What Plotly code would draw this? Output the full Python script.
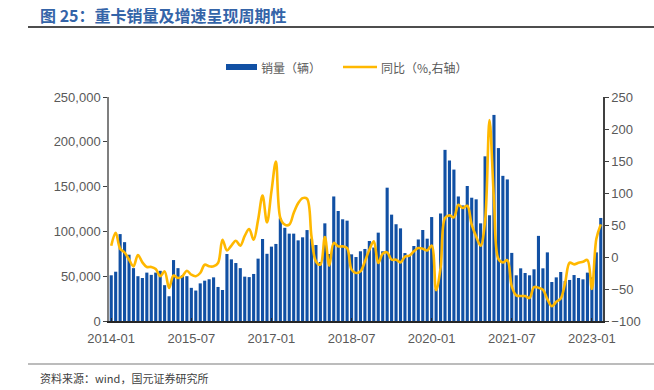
import plotly.graph_objects as go

# ---- data ----
start_year, start_month, n_months = 2014, 1, 111
months = []
y, m = start_year, start_month
for _ in range(n_months):
    months.append(f"{y}-{m:02d}")
    m += 1
    if m > 12:
        m = 1
        y += 1

sales = [51000, 55000, 97000, 88000, 74000, 59000, 50000, 48000, 54000, 51500, 54000, 56000,
         40000, 27600, 68000, 59000, 51000, 50000, 37000, 34000, 42000, 45000, 46600, 48700,
         38000, 34600, 74800, 68800, 64700, 59000, 49500, 49000, 52500, 69600, 91500, 75000,
         83000, 86000, 114600, 104000, 97500, 97500, 90000, 93400, 101500, 92000, 84800, 65800,
         109000, 74800, 139000, 122800, 113500, 112000, 74400, 71400, 77800, 80400, 89300, 82000,
         98600, 77800, 148800, 118700, 108000, 103400, 75800, 72800, 83700, 91000, 101600, 91900,
         116000, 36000, 120000, 191000, 179000, 169000, 139000, 129000, 150700, 137600, 135800, 109000,
         183800, 118000, 230000, 193000, 162000, 158000, 76000, 51000, 58800, 53600, 51000, 57700,
         95000, 58800, 76600, 43500, 48700, 54700, 44600, 45800, 51300, 48000, 46500, 54000,
         48700, 76600, 115000]

yoy = [17.7, 38, 13, 7, -4, -14.6, 3, -8.4, -15.6, -15.6, -18.8, -30,
       -22.5, -48.5, -29, -32.8, -30, -21.4, -27.7, -30, -25, -12, -14.6, -14.6,
       -9.4, 27, 10.3, 17.7, 25.5, 17.7, 33, 43.7, 27, 58, 96, 54,
       102.5, 149, 61, 50.5, 50.5, 68.7, 84, 92, 91, 32, -7, -12,
       31, -13.6, 22, 16.6, 16.6, 14, -19.8, -25, -22.5, -7, 11.4, 24.4,
       -9.4, 5.2, 7.2, -4.2, -4.2, -8.4, 0.5, 2.3, 8.8, 14, 13, 10.3,
       18, -52, -17, 61, 65, 62, 81.7, 76.5, 80, 50.5, 32, 17.7,
       55.7, 214, 90, -3, -8.5, -5, -46, -60, -61, -61, -64, -47,
       -48, -51, -66, -77, -70, -65, -40, -9, -11.5, -9, -7.3, -4.7,
       -50, 28, 51]

tick_labels = ["2014-01", "2015-07", "2017-01", "2018-07", "2020-01", "2021-07", "2023-01"]

title_text = "图 25：重卡销量及增速呈现周期性"
bar_name = "销量（辆）"
line_name = "同比（%,右轴）"
source_text = "资料来源：wind，国元证券研究所"

BAR_COLOR = "#1150A4"
LINE_COLOR = "#FFB800"
GRAY = "#595959"
CJK = "Noto Sans CJK SC"
LAT = "Liberation Sans"

W, H = 654, 390
L, R, T, B = 109, 603, 97, 321


def px(x):
    return (x - L) / (R - L)


def py(y):
    return (B - y) / (B - T)


fig = go.Figure()
fig.add_trace(go.Bar(x=months, y=sales, name=bar_name, marker=dict(color=BAR_COLOR, line=dict(width=0)),
                     yaxis="y", showlegend=False))
fig.add_trace(go.Scatter(x=months, y=yoy, name=line_name, mode="lines",
                         line=dict(color=LINE_COLOR, width=2.6, shape="spline", smoothing=1),
                         yaxis="y2", showlegend=False))

fig.update_layout(
    width=W, height=H,
    margin=dict(l=L, r=W - R, t=T, b=H - B),
    paper_bgcolor="white", plot_bgcolor="white",
    bargap=0.3,
    font=dict(family=LAT, size=13, color=GRAY),
    xaxis=dict(type="category", categoryorder="array", categoryarray=months,
               tickmode="array", tickvals=tick_labels, ticktext=tick_labels,
               showgrid=False, showline=True, linecolor="#262626", linewidth=2,
               ticks="inside", ticklen=3, tickcolor="#262626", ticklabelstandoff=4,
               tickfont=dict(family=LAT, size=13, color=GRAY), range=[-0.5, len(months) - 0.5]),
    yaxis=dict(range=[0, 250000], dtick=50000, tickformat=",", showgrid=False,
               showline=True, linecolor="#7f7f7f", linewidth=1.5,
               ticks="outside", ticklen=4, tickcolor="#404040", zeroline=False,
               tickfont=dict(family=LAT, size=13, color=GRAY)),
    yaxis2=dict(range=[-100, 250], dtick=50, overlaying="y", side="right", showgrid=False,
                showline=True, linecolor="#404040", linewidth=1.5,
                ticks="outside", ticklen=4, tickcolor="#404040", zeroline=False,
                tickfont=dict(family=LAT, size=13, color=GRAY)),
)

shapes = []
annotations = []
# title + rule
annotations.append(dict(xref="paper", yref="paper", x=px(38), y=py(15), xanchor="left", yanchor="middle",
                        text="<b>" + title_text + "</b>", showarrow=False,
                        font=dict(family=CJK, size=16, color="#3464A8")))
shapes.append(dict(type="line", xref="paper", yref="paper", x0=px(28), x1=px(654), y0=py(27), y1=py(27),
                   line=dict(color="#4d4d4d", width=2)))
# footer rule + source
shapes.append(dict(type="line", xref="paper", yref="paper", x0=px(28), x1=px(654), y0=py(364), y1=py(364),
                   line=dict(color="#a6a6a6", width=1.5)))
annotations.append(dict(xref="paper", yref="paper", x=px(38), y=py(378), xanchor="left", yanchor="middle",
                        text=source_text, showarrow=False,
                        font=dict(family=CJK, size=11, color="#404040")))
# manual legend
shapes.append(dict(type="rect", xref="paper", yref="paper", x0=px(226), x1=px(257), y0=py(70), y1=py(64),
                   fillcolor=BAR_COLOR, line=dict(width=0)))
annotations.append(dict(xref="paper", yref="paper", x=px(259), y=py(67), xanchor="left", yanchor="middle",
                        text=bar_name, showarrow=False, font=dict(family=CJK, size=12, color=GRAY)))
shapes.append(dict(type="line", xref="paper", yref="paper", x0=px(343), x1=px(377), y0=py(67), y1=py(67),
                   line=dict(color=LINE_COLOR, width=2.6)))
annotations.append(dict(xref="paper", yref="paper", x=px(379), y=py(67), xanchor="left", yanchor="middle",
                        text=line_name, showarrow=False, font=dict(family=CJK, size=12, color=GRAY)))

fig.update_layout(shapes=shapes, annotations=annotations)
fig.write_html("out.html", config={"displayModeBar": False},
               post_script="document.body.style.margin='0';document.body.style.padding='0';")
